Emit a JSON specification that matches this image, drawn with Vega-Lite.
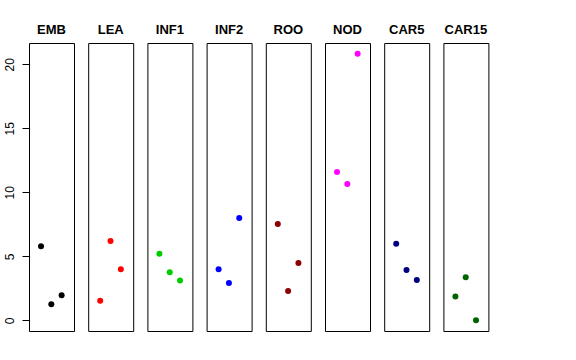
{
  "$schema": "https://vega.github.io/schema/vega-lite/v6.json",
  "padding": {"left": 3, "top": 24, "right": 5, "bottom": 5},
  "bounds": "flush",
  "data": {"values": [
    {"panel": "EMB", "idx": 1, "value": 5.78},
    {"panel": "EMB", "idx": 2, "value": 1.25},
    {"panel": "EMB", "idx": 3, "value": 1.95},
    {"panel": "LEA", "idx": 1, "value": 1.53},
    {"panel": "LEA", "idx": 2, "value": 6.2},
    {"panel": "LEA", "idx": 3, "value": 3.98},
    {"panel": "INF1", "idx": 1, "value": 5.2},
    {"panel": "INF1", "idx": 2, "value": 3.75},
    {"panel": "INF1", "idx": 3, "value": 3.1},
    {"panel": "INF2", "idx": 1, "value": 3.98},
    {"panel": "INF2", "idx": 2, "value": 2.91},
    {"panel": "INF2", "idx": 3, "value": 7.99},
    {"panel": "ROO", "idx": 1, "value": 7.52},
    {"panel": "ROO", "idx": 2, "value": 2.29},
    {"panel": "ROO", "idx": 3, "value": 4.48},
    {"panel": "NOD", "idx": 1, "value": 11.59},
    {"panel": "NOD", "idx": 2, "value": 10.65},
    {"panel": "NOD", "idx": 3, "value": 20.83},
    {"panel": "CAR5", "idx": 1, "value": 5.98},
    {"panel": "CAR5", "idx": 2, "value": 3.93},
    {"panel": "CAR5", "idx": 3, "value": 3.15},
    {"panel": "CAR15", "idx": 1, "value": 1.85},
    {"panel": "CAR15", "idx": 2, "value": 3.36},
    {"panel": "CAR15", "idx": 3, "value": 0.0}
  ]},
  "facet": {
    "column": {
      "field": "panel",
      "type": "nominal",
      "sort": ["EMB", "LEA", "INF1", "INF2", "ROO", "NOD", "CAR5", "CAR15"],
      "title": null,
      "header": {
        "labelFont": "Liberation Sans",
        "labelFontSize": 13,
        "labelFontWeight": "bold",
        "labelColor": "black",
        "labelPadding": 6
      }
    }
  },
  "spacing": 14.2,
  "spec": {
    "width": 45,
    "height": 288,
    "mark": {"type": "point", "filled": true, "size": 36, "opacity": 1, "shape": "circle"},
    "encoding": {
      "x": {
        "field": "idx",
        "type": "quantitative",
        "scale": {"domain": [-0.165, 4.2], "nice": false, "zero": false},
        "axis": null
      },
      "y": {
        "field": "value",
        "type": "quantitative",
        "scale": {"domain": [-0.836, 21.66], "nice": false, "zero": false},
        "axis": {
          "title": null,
          "values": [0, 5, 10, 15, 20],
          "grid": false,
          "domain": false,
          "tickSize": 7,
          "tickColor": "black",
          "labelAngle": -90,
          "labelAlign": "center",
          "labelBaseline": "alphabetic",
          "labelPadding": 9,
          "labelFont": "Liberation Sans",
          "labelFontSize": 12,
          "labelColor": "black"
        }
      },
      "color": {
        "field": "panel",
        "type": "nominal",
        "scale": {
          "domain": ["EMB", "LEA", "INF1", "INF2", "ROO", "NOD", "CAR5", "CAR15"],
          "range": ["#000000", "#FF0000", "#00CD00", "#0000FF", "#8B0000", "#FF00FF", "#000080", "#006400"]
        },
        "legend": null
      }
    }
  },
  "config": {
    "view": {"stroke": "black", "strokeWidth": 1},
    "background": "white"
  }
}
